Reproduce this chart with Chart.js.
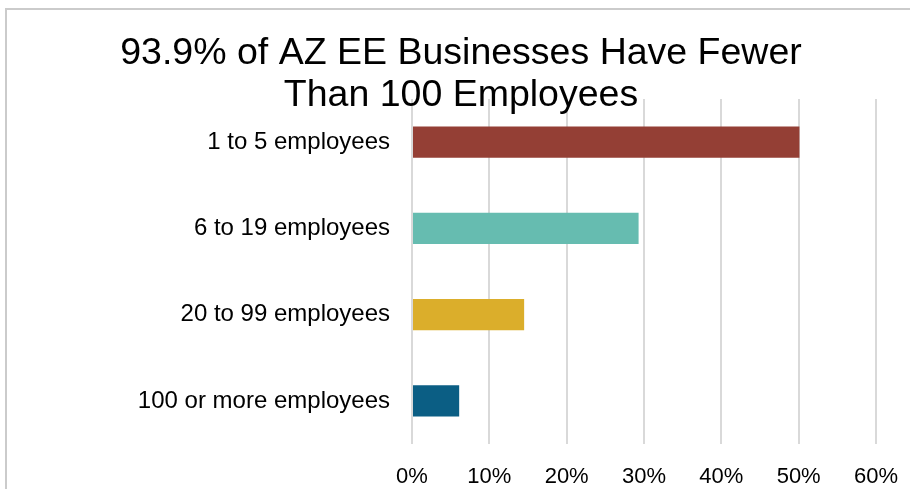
<!DOCTYPE html>
<html lang="en">
<head>
  <meta charset="UTF-8">
  <title>AZ EE Businesses by Size</title>
  <script src="https://cdn.jsdelivr.net/npm/chart.js"></script>
  <style>
    body { margin: 0; overflow: hidden; background: #fff; }
    #wrap { position: relative; width: 910px; height: 489px; }
    #frame {
      position: absolute; left: 5px; top: 8px; width: 1000px; height: 1000px;
      border-left: 2px solid #cbcbcb; border-top: 2px solid #cbcbcb;
      pointer-events: none;
    }
  </style>
</head>
<body>
  <div id="wrap">
    <canvas id="sizeChart"></canvas>
    <div id="frame"></div>
  </div>

  <script>
    // chart data
    const categories = ['1 to 5 employees', '6 to 19 employees', '20 to 99 employees', '100 or more employees'];
    const shares = [50.1, 29.3, 14.5, 6.1];
    const barColors = ['#943f35', '#66bcb0', '#dbae2b', '#0b5e84'];
    const titleLines = ['93.9% of AZ EE Businesses Have Fewer', 'Than 100 Employees'];

    const ctx = document.getElementById('sizeChart').getContext('2d');

    new Chart(ctx, {
      type: 'bar',
      data: {
        labels: categories,
        datasets: [{
          data: shares,
          backgroundColor: barColors,
          categoryPercentage: 1,
          barPercentage: 0.365
        }]
      },
      options: {
        indexAxis: 'y',
        responsive: true,
        maintainAspectRatio: false,
        animation: false,
        layout: { padding: { left: 46, right: 34, top: 0, bottom: 0 } },
        plugins: {
          legend: { display: false },
          tooltip: { enabled: false },
          title: {
            display: true,
            text: titleLines,
            color: '#000',
            font: { family: 'Liberation Sans, Arial, sans-serif', size: 37.5, weight: 'normal', lineHeight: 42 / 37.5 },
            padding: { top: 33, bottom: -18 }
          }
        },
        scales: {
          x: {
            min: 0,
            max: 60,
            ticks: {
              stepSize: 10,
              padding: 20,
              color: '#000',
              font: { family: 'Liberation Sans, Arial, sans-serif', size: 22 },
              callback: (v) => v + '%'
            },
            grid: { color: '#d9d9d9', lineWidth: 2, drawTicks: false },
            border: { display: false },
            afterFit: (scale) => {
              scale.height = 45;
              // layout padding already leaves room for the end labels
              scale.paddingLeft = 0;
              scale.paddingRight = 0;
            }
          },
          y: {
            ticks: {
              padding: 22,
              color: '#000',
              font: { family: 'Liberation Sans, Arial, sans-serif', size: 24 }
            },
            grid: { display: false, drawTicks: false },
            border: { display: false },
            afterFit: (scale) => { scale.width = 366; }
          }
        }
      }
    });
  </script>
</body>
</html>
